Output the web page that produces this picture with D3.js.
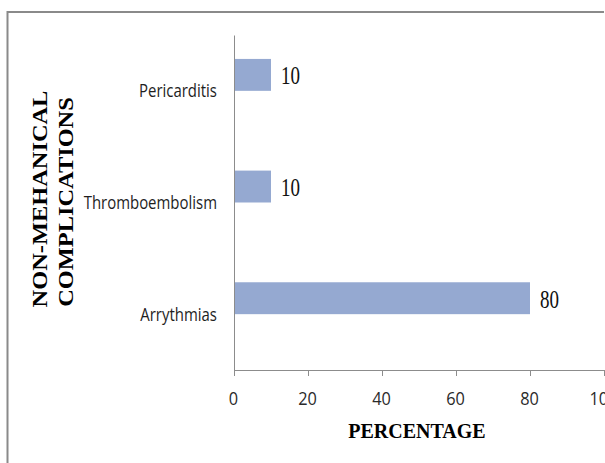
<!DOCTYPE html>
<html>
<head>
<meta charset="utf-8">
<script src="https://cdn.jsdelivr.net/npm/d3@7"></script>
<style>
  html, body { margin: 0; padding: 0; background: #fff; }
  svg { display: block; }
</style>
</head>
<body>
<svg id="chart" width="605" height="463"></svg>
<script>
// ---- data ----
const categories = ["Pericarditis", "Thromboembolism", "Arrythmias"];
const values = [10, 10, 80];
const seriesSlots = ["Percentage", "(empty)"];
const xTicks = [0, 20, 40, 60, 80, 100];
const xTitle = "PERCENTAGE";
const yTitleLines = ["NON-MEHANICAL", "COMPLICATIONS"];

// ---- layout ----
const svg = d3.select("#chart");
const plot = { left: 234, right: 604, top: 35, bottom: 370 };

const x = d3.scaleLinear().domain([0, 100]).range([plot.left, plot.right]);
const y = d3.scaleBand().domain(categories).range([plot.top, plot.bottom]);
const ySub = d3.scaleBand().domain(seriesSlots).range([0, y.bandwidth()]).paddingOuter(0.75);

// outer chart border (top + left visible)
svg.append("line").attr("x1", 7.5).attr("x2", 604).attr("y1", 12).attr("y2", 12)
  .attr("stroke", "#8a8a8a").attr("stroke-width", 2);
svg.append("line").attr("x1", 7.5).attr("x2", 7.5).attr("y1", 11).attr("y2", 463)
  .attr("stroke", "#8a8a8a").attr("stroke-width", 2);

// bars
svg.append("g").selectAll("rect").data(categories).join("rect")
  .attr("x", x(0))
  .attr("y", d => y(d) + ySub("Percentage"))
  .attr("width", (d, i) => x(values[i]) - x(0))
  .attr("height", ySub.bandwidth())
  .attr("fill", "#95a9d1");

// value labels
svg.append("g").selectAll("g").data(categories).join("g")
  .attr("transform", (d, i) => `translate(${x(values[i]) + 10},${y(d) + ySub("Percentage") + ySub.bandwidth() / 2}) scale(1,1.3)`)
  .append("text")
  .attr("dy", "0.38em")
  .attr("font-family", "'Liberation Serif', 'Times New Roman', serif")
  .attr("font-size", 19)
  .attr("fill", "#111")
  .text((d, i) => values[i]);

// x axis
const xAxis = svg.append("g")
  .attr("transform", `translate(0,${plot.bottom})`)
  .call(d3.axisBottom(x).tickValues(xTicks).tickSize(6).tickSizeOuter(0));
xAxis.select(".domain").attr("stroke", "#8c8c8c");
xAxis.selectAll(".tick line").attr("stroke", "#8c8c8c");
xAxis.selectAll(".tick text")
  .attr("y", null).attr("dy", null)
  .attr("transform", "translate(-1,35) scale(1.02,1.15)")
  .attr("font-family", "'Open Sans', sans-serif")
  .attr("font-size", 16)
  .attr("fill", "#2a2a2a");

// y axis (line only)
const yAxis = svg.append("g")
  .attr("transform", `translate(${plot.left},0)`)
  .call(d3.axisLeft(y).tickSize(0).tickSizeOuter(0).tickFormat(""));
yAxis.select(".domain").attr("stroke", "#8c8c8c");

// category labels
svg.append("g").selectAll("g").data(categories).join("g")
  .attr("transform", d => `translate(217,${y(d) + y.bandwidth() / 2}) scale(0.88,1.06)`)
  .append("text")
  .attr("text-anchor", "end")
  .attr("dy", "0.36em")
  .attr("font-family", "'Open Sans', sans-serif")
  .attr("font-size", 17)
  .attr("fill", "#1e1e1e")
  .text(d => d);

// x title
svg.append("text")
  .attr("x", (plot.left + plot.right) / 2 - 2)
  .attr("y", 438)
  .attr("text-anchor", "middle")
  .attr("font-family", "'Liberation Serif', 'Times New Roman', serif")
  .attr("font-weight", "bold")
  .attr("font-size", 20)
  .attr("fill", "#000")
  .text(xTitle);

// y title (two rotated lines)
const yTitlePos = [[47, 199], [73, 202]];
svg.append("g").selectAll("g").data(yTitleLines).join("g")
  .attr("transform", (d, i) => `translate(${yTitlePos[i][0]},${yTitlePos[i][1]}) rotate(-90) scale(1.22,1)`)
  .append("text")
  .attr("text-anchor", "middle")
  .attr("font-family", "'Liberation Serif', 'Times New Roman', serif")
  .attr("font-weight", "bold")
  .attr("font-size", 20)
  .attr("fill", "#000")
  .text(d => d);
</script>
</body>
</html>
